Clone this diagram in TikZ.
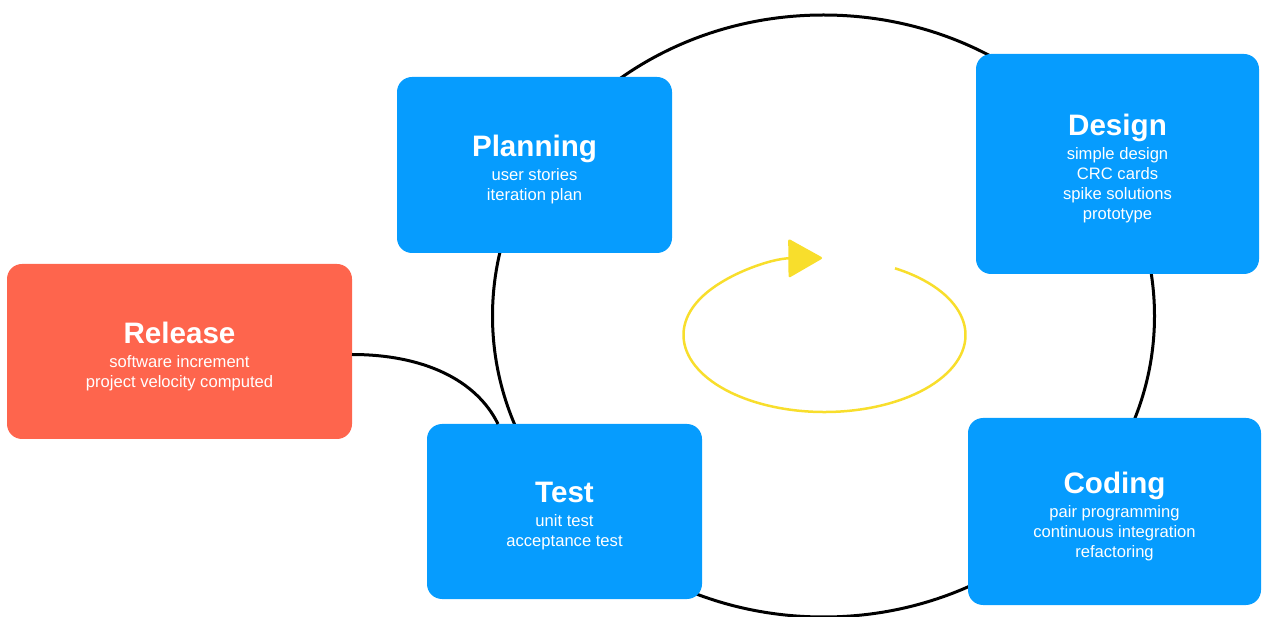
\documentclass[tikz,border=0pt]{standalone}
\usepackage{fontspec}
\setmainfont{Liberation Sans}
\usetikzlibrary{arrows.meta,calc}
\definecolor{phaseblue}{HTML}{069CFE}
\definecolor{releasered}{HTML}{FE654D}
\definecolor{loopyellow}{HTML}{F8DE2C}
\newcommand\phasetitle[1]{{\fontsize{29.6}{20}\selectfont\bfseries #1}}
\begin{document}
\begin{tikzpicture}[x=1pt,y=-1pt,
  phase/.style={rounded corners=15pt, fill=phaseblue, inner sep=0pt, outer sep=0pt},
  release/.style={phase, fill=releasered},
  phasetext/.style={text=white, align=center, inner sep=0pt,
    font=\fontsize{16.6}{20}\selectfont},
  cycleline/.style={line width=3pt, black},
]
\useasboundingbox (0,0) rectangle (1262,617);

% the iteration cycle behind the phases
\draw[cycleline] (823.5,316) ellipse [x radius=331, y radius=301];

% release hangs off the test phase
\coordinate (test-in) at (498,424);

% phase boxes
\node[phase, minimum width=275pt, minimum height=176pt] (plan) at (534.5,165) {};
\node[phase, minimum width=283pt, minimum height=220pt] (design) at (1117.5,164) {};
\node[phase, minimum width=293pt, minimum height=187pt] (coding) at (1114.5,511.5) {};
\node[phase, minimum width=275pt, minimum height=175pt] (test) at (564.5,511.5) {};
\node[release, minimum width=345pt, minimum height=175pt] (rel) at (179.5,351.5) {};

\draw[cycleline] ([yshift=-3pt]rel.east) .. controls +(70,0) and +(-22,-45) .. (test-in);

% phase texts
\node[phasetext] (plan-t) at ([yshift=-5pt]plan.center)
  {\phasetitle{Planning}\\[4pt] user stories\\ iteration plan};
\node[phasetext] (design-t) at ([yshift=-5pt]design.center)
  {\phasetitle{Design}\\[4pt] simple design\\ CRC cards\\ spike solutions\\ prototype};
\node[phasetext] (coding-t) at ([yshift=-5pt]coding.center)
  {\phasetitle{Coding}\\[4pt] pair programming\\ continuous integration\\ refactoring};
\node[phasetext] (test-t) at ([yshift=-5pt]test.center)
  {\phasetitle{Test}\\[4pt] unit test\\ acceptance test};
\node[phasetext] (rel-t) at ([yshift=-5pt]rel.center)
  {\phasetitle{Release}\\[4pt] software increment\\ project velocity computed};

% yellow loop arrow in the middle
\coordinate (loop) at (824.5,335);
\draw[loopyellow, line width=2.5pt, -{Triangle[length=35pt,width=39pt,round]}]
  ($(loop)+(-60:141 and 77)$) arc[start angle=-60, end angle=269, x radius=141, y radius=77];
\end{tikzpicture}
\end{document}
